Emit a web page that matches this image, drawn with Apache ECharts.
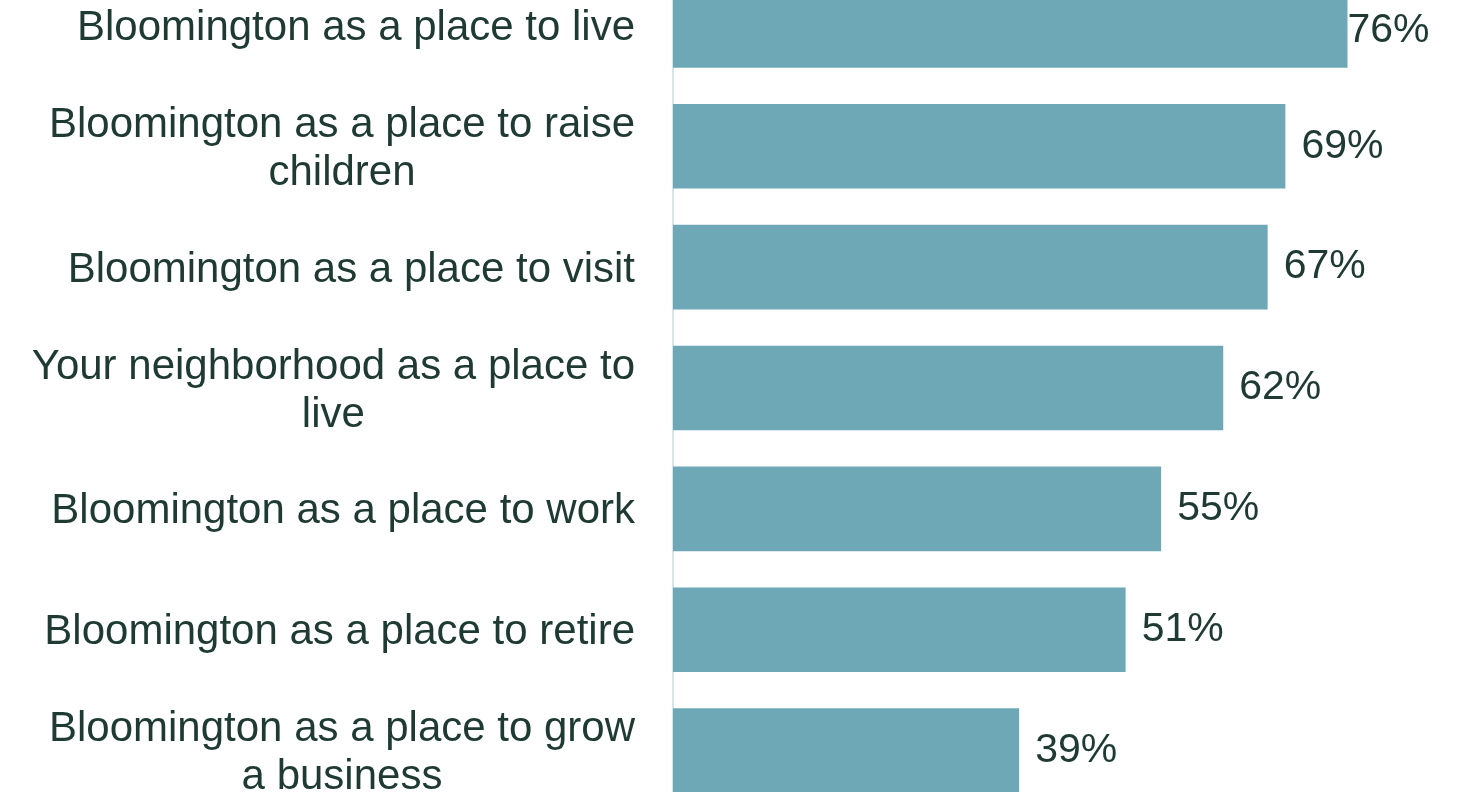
<!DOCTYPE html>
<html>
<head>
<meta charset="utf-8">
<script src="https://cdn.jsdelivr.net/npm/echarts@6/dist/echarts.min.js"></script>
<style>
  html, body { margin: 0; padding: 0; background: #fff; }
  #chart { width: 1461px; height: 792px; }
</style>
</head>
<body>
<div id="chart"></div>
<script>
// top to bottom
var categories = [
  'Bloomington as a place to live',
  'Bloomington as a place to raise\nchildren',
  'Bloomington as a place to visit',
  'Your neighborhood as a place to\nlive',
  'Bloomington as a place to work',
  'Bloomington as a place to retire',
  'Bloomington as a place to grow\na business'
];
var values = [76, 69, 67, 62, 55, 51, 39];

var textColor = '#1e3a33';
var barColor = '#6ea8b6';
var font = '"Liberation Sans", Arial, sans-serif';

var chart = echarts.init(document.getElementById('chart'));

chart.setOption({
  animation: false,
  grid: {
    left: 673,
    right: 78,
    top: -35,
    bottom: -19,
    outerBoundsMode: 'none',
    containLabel: false
  },
  xAxis: {
    type: 'value',
    min: 0,
    max: 80,
    show: false
  },
  yAxis: {
    type: 'category',
    inverse: true,
    data: categories,
    axisLine: { show: true, lineStyle: { color: '#d6e6e6', width: 2 } },
    axisTick: { show: false },
    axisLabel: {
      margin: 38,
      align: 'right',
      padding: [6, 0, 0, 0],
      formatter: function (v) {
        return v.split('\n').map(function (s) { return '{c|' + s + '}'; }).join('\n');
      },
      rich: {
        c: {
          align: 'center',
          fontFamily: font,
          fontSize: 42,
          lineHeight: 48,
          color: textColor
        }
      }
    }
  },
  series: [{
    type: 'bar',
    barCategoryGap: '30%',
    itemStyle: { color: barColor },
    data: values.map(function (v, i) {
      var item = { value: v };
      if (i === 0) item.label = { distance: 0, offset: [0, 5] };
      return item;
    }),
    label: {
      show: true,
      position: 'right',
      distance: 16,
      formatter: '{c}%',
      fontFamily: font,
      fontSize: 41,
      color: textColor
    }
  }]
});
</script>
</body>
</html>
